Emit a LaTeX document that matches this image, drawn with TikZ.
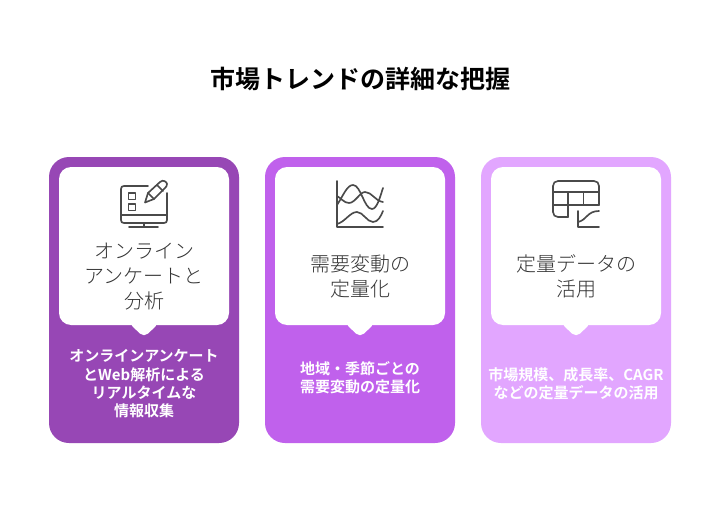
\documentclass[tikz,border=0pt]{standalone}
\usepackage{fontspec}
\setmainfont{Noto Sans CJK JP}[BoldFont={Noto Sans CJK JP Bold}]
\newfontfamily\headfont{Noto Sans CJK JP Light}
\definecolor{cardA}{HTML}{9747B5}
\definecolor{cardB}{HTML}{C061EC}
\definecolor{cardC}{HTML}{E2A6FF}
\definecolor{inkc}{HTML}{4A4A4A}
\definecolor{headc}{HTML}{333333}
\tikzset{
  cardbg/.style={rounded corners=20pt},
  headtext/.style={text=headc,font=\headfont\fontsize{20}{25}\selectfont,align=center,inner sep=0pt},
  bodytext/.style={text=white,font=\bfseries\fontsize{15}{18.3}\selectfont,align=center,inner sep=0pt},
  titletext/.style={text=black,font=\bfseries\fontsize{25}{30}\selectfont,inner sep=0pt},
  iconline/.style={draw=inkc,line width=1.65pt,line cap=round,line join=round,fill=none}
}
\newcommand{\whitecard}[1]{%
  \fill[white,rounded corners=12pt] (#1-85,167) -- (#1+85,167) -- (#1+85,325) -- (#1-85,325) -- cycle;
  \fill[white,rounded corners=2pt] (#1-13,323) -- (#1+13,323) -- (#1+13,325) -- (#1+2.5,335) -- (#1-2.5,335) -- (#1-13,325) -- cycle;
}
\begin{document}
\begin{tikzpicture}[x=1pt,y=-1pt]
\useasboundingbox (0,0) rectangle (720,516);
\fill[white] (0,0) rectangle (720,516);
\node[titletext] (title) at (360,79) {市場トレンドの詳細な把握};
% cards
\fill[cardA,cardbg] (49,157) rectangle (239,443);
\fill[cardB,cardbg] (265,157) rectangle (455,443);
\fill[cardC,cardbg] (481,157) rectangle (671,443);
\whitecard{144}
\whitecard{360}
\whitecard{576}
% icon 1
\draw[iconline] (148,186) -- (124,186) .. controls (122,186) and (121,187) .. (121,189) -- (121,220) .. controls (121,222) and (122,223) .. (124,223) -- (164,223) .. controls (166,223) and (167,222) .. (167,220) -- (167,193);
\draw[iconline] (121,215) -- (167,215);
\draw[iconline] (144,223) -- (144,227);
\draw[iconline] (129,227) -- (158,227);
\draw[iconline] (128.5,193) rectangle (135.5,199.5);
\draw[iconline] (128.5,204) rectangle (135.5,210.5);
\draw[iconline] (145,202.5) -- (148,193) -- (160,182) .. controls (163,179) and (167,182) .. (167,184) .. controls (167,186) and (166,187) .. (165,188) -- (154,199) -- cycle;
\draw[iconline] (157,185) -- (163,191);
\draw[iconline] (148,193) -- (154,199);
% icon 2
\draw[iconline] (337,181) -- (337,227) -- (383,227);
\draw[iconline] (337,205) .. controls (343,196) and (347,185) .. (353,185) .. controls (361,185) and (364,209) .. (372,209) .. controls (377,209) and (380,197) .. (383,188);
\draw[iconline] (337,196) .. controls (341,198) and (344,203) .. (349,203) .. controls (355,203) and (360,192) .. (365,192) .. controls (372,192) and (375,201) .. (383,202);
\draw[iconline] (337,224) .. controls (345,222) and (350,212) .. (357,212) .. controls (363,212) and (367,222) .. (373,222) .. controls (378,222) and (381,216) .. (383,211);
% icon 3
\draw[iconline] (568,217) -- (558,217) .. controls (555,217) and (553,215) .. (553,212) -- (553,186) .. controls (553,183) and (555,181) .. (558,181) -- (594,181) .. controls (597,181) and (599,183) .. (599,186) -- (599,205);
\draw[iconline] (553,192) -- (599,192);
\draw[iconline] (553,205) -- (599,205);
\draw[iconline] (568,192) -- (568,217);
\draw[iconline] (583.5,192) -- (583.5,205);
\draw[iconline] (578,211) -- (578,227) -- (599,227);
\draw[iconline] (578,222) .. controls (587,220) and (587,211) .. (599,211);
% headings
\node[headtext] (h1) at (144,277) {オンライン\\アンケートと\\分析};
\node[headtext] (h2) at (360,276) {需要変動の\\定量化};
\node[headtext] (h3) at (576,276) {定量データの\\活用};
% body text
\node[bodytext] (b1) at (144,384) {オンラインアンケート\\とWeb解析による\\リアルタイムな\\情報収集};
\node[bodytext] (b2) at (360,377.5) {地域・季節ごとの\\需要変動の定量化};
\node[bodytext] (b3) at (576,384) {市場規模、成長率、CAGR\\などの定量データの活用};
\end{tikzpicture}
\end{document}
